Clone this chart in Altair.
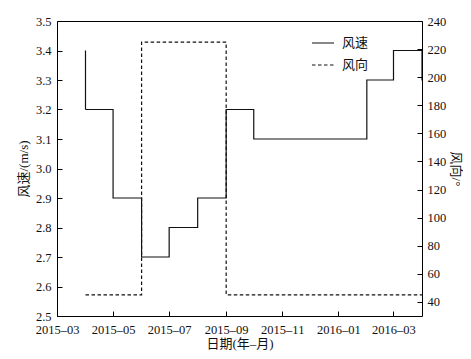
import altair as alt
import pandas as pd

dates = ["2015-04-01", "2015-05-01", "2015-06-01", "2015-07-01", "2015-08-01",
         "2015-09-01", "2015-10-01", "2015-11-01", "2015-12-01", "2016-01-01",
         "2016-02-01", "2016-03-01", "2016-04-01", "2016-05-01"]
speed = [3.4, 3.2, 2.9, 2.7, 2.8, 2.9, 3.2, 3.1, 3.1, 3.1, 3.1, 3.3, 3.4, 3.3]
direction = [45, 45, 45, 225, 225, 225, 45, 45, 45, 45, 45, 45, 45, 45]

speed_ticks = [2.5, 2.6, 2.7, 2.8, 2.9, 3.0, 3.1, 3.2, 3.3, 3.4, 3.5]
dir_ticks = [40, 60, 80, 100, 120, 140, 160, 180, 200, 220, 240]
series = ["风速", "风向"]

df = pd.DataFrame({"date": dates, "speed": speed, "direction": direction})

FONT = "Liberation Serif, Noto Sans CJK SC"
x_ticks = [alt.DateTime(year=y, month=m, date=1, utc=True)
           for (y, m) in [(2015, 3), (2015, 5), (2015, 7), (2015, 9), (2015, 11), (2016, 1), (2016, 3)]]

x_enc = alt.X("date:T", title="日期(年–月)",
              scale=alt.Scale(type="utc",
                              domain=[alt.DateTime(year=2015, month=3, date=1, utc=True),
                                      alt.DateTime(year=2016, month=4, date=1, utc=True)]),
              axis=alt.Axis(values=x_ticks, labelExpr="utcFormat(datum.value, '%Y–%m')",
                            offset=-5, tickSize=5, labelPadding=7, titlePadding=2,
                            domain=False, grid=False, labelFlush=False))

dash_scale = alt.Scale(domain=series, range=[[1, 0], [3.5, 2.5]])
dash_legend = alt.Legend(title=None, orient="none", legendX=254, legendY=10,
                         symbolType="stroke", symbolSize=484,
                         symbolStrokeColor="#111", symbolStrokeWidth=1.2,
                         labelFontSize=13, labelOffset=7, rowPadding=3,
                         labelFont=FONT, labelColor="#111", padding=0)

base = alt.Chart(df).encode(x=x_enc)

speed_line = base.transform_calculate(series="'" + series[0] + "'").mark_line(
    interpolate="step-before", color="#111", strokeWidth=1.2, clip=True).encode(
    y=alt.Y("speed:Q", title="风速/(m/s)",
            scale=alt.Scale(domain=[2.5, 3.5], nice=False, zero=False),
            axis=alt.Axis(values=speed_ticks, format=".1f", orient="left",
                          offset=-5, tickSize=5, labelPadding=6, titlePadding=5,
                          domain=False, grid=False)),
    strokeDash=alt.StrokeDash("series:N", scale=dash_scale, legend=dash_legend),
)

dir_line = base.transform_calculate(series="'" + series[1] + "'").mark_line(
    interpolate="step-before", color="#111", strokeWidth=1.2, clip=True).encode(
    y=alt.Y("direction:Q", title="风向/°",
            scale=alt.Scale(domain=[30, 240], nice=False, zero=False),
            axis=alt.Axis(values=dir_ticks, orient="right",
                          offset=-5, tickSize=5, labelPadding=5, titlePadding=3,
                          domain=False, grid=False)),
    strokeDash=alt.StrokeDash("series:N", scale=dash_scale, legend=dash_legend),
)

chart = alt.layer(speed_line, dir_line).resolve_scale(y="independent").properties(
    width=365, height=295,
    background="white",
    autosize=alt.AutoSizeParams(type="none"),
    padding={"left": 49, "top": 13, "right": 41, "bottom": 35},
).configure_view(stroke="#000", strokeWidth=1).configure_axis(
    labelFont=FONT, titleFont=FONT, labelFontSize=12.5, titleFontSize=13,
    titleFontWeight="normal", labelColor="#111", titleColor="#111",
    tickColor="#000", tickWidth=1,
)

chart.save("out.html", embed_options={"renderer": "svg", "actions": False})
